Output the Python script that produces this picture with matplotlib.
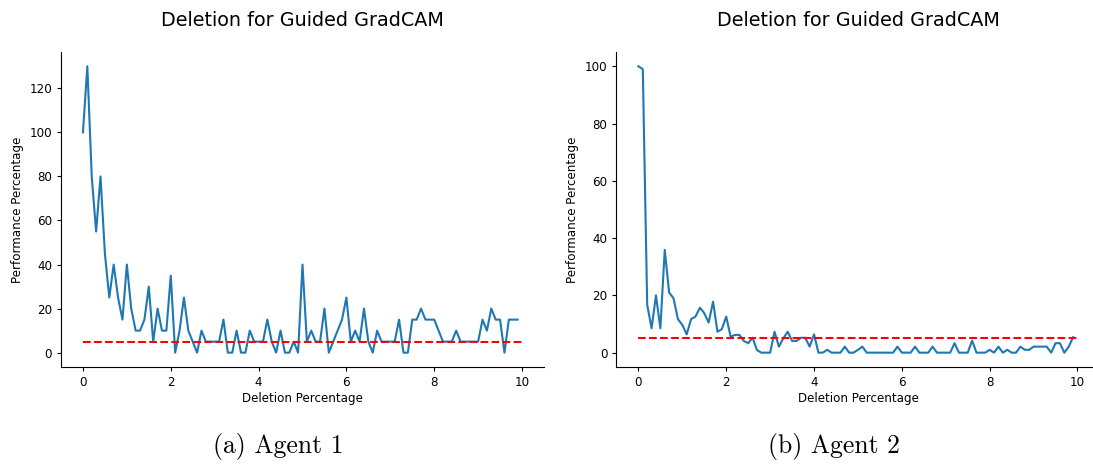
import matplotlib
matplotlib.use("Agg")
import matplotlib.pyplot as plt
import numpy as np

# deletion steps (percent), 0.0 .. 9.9
steps = np.round(np.arange(100) * 0.1, 1)

# agent 1 performance (%)
agent1 = [100, 130, 80, 55, 80, 45, 25, 40, 25, 15,
          40, 20, 10, 10, 15, 30, 5, 20, 10, 10,
          35, 0, 10, 25, 10, 5, 0, 10, 5, 5,
          5, 5, 15, 0, 0, 10, 0, 0, 10, 5,
          5, 5, 15, 5, 0, 10, 0, 0, 5, 0,
          40, 5, 10, 5, 5, 20, 0, 5, 10, 15,
          25, 5, 10, 5, 20, 5, 0, 10, 5, 5,
          5, 5, 15, 0, 0, 15, 15, 20, 15, 15,
          15, 10, 5, 5, 5, 10, 5, 5, 5, 5,
          5, 15, 10, 20, 15, 15, 0, 15, 15, 15]

# agent 2 performance (%)
agent2 = [100, 99, 16.7, 8.5, 20, 8.5, 35.9, 21, 19, 11.7,
          9.7, 6.4, 11.7, 12.6, 15.7, 13.8, 10.5, 17.8, 7.3, 8.2,
          12.6, 5.6, 6.2, 6.2, 4.1, 3.3, 5.2, 0.9, 0, 0,
          0, 7.3, 2.1, 5, 7.3, 4.1, 4.1, 5.2, 5.2, 2.1,
          6.4, 0, 0, 1, 0, 0, 0, 2.1, 0, 0,
          1, 2.1, 0, 0, 0, 0, 0, 0, 0, 2.1,
          0, 0, 0, 2.1, 0, 0, 0, 2.1, 0, 0,
          0, 0, 3.3, 0, 0, 0, 4.2, 0, 0, 0,
          1, 0, 2.1, 0, 1, 0, 0, 2.1, 1, 1,
          2.1, 2.1, 2.1, 2.1, 0, 3.3, 3.3, 0, 2.1, 5.4]

baseline = 5
captions = ["(a) Agent 1", "(b) Agent 2"]

fig = plt.figure(figsize=(10.93, 4.65), dpi=100)
ax1 = fig.add_axes([0.0558, 0.2108, 0.4419, 0.6774])
ax2 = fig.add_axes([0.5640, 0.2108, 0.4419, 0.6774])

for ax, vals, cap in zip([ax1, ax2], [agent1, agent2], captions):
    ax.plot(steps, vals, color="#1f77b4", linewidth=1.5)
    ax.plot([0, 10], [baseline, baseline], "r--", linewidth=1.5)
    ax.set_title("Deletion for Guided GradCAM", fontsize=13.8, pad=19)
    ax.set_xlabel("Deletion Percentage", fontsize=8.6, labelpad=2)
    ax.set_ylabel("Performance Percentage", fontsize=8.6, labelpad=4)
    ax.tick_params(labelsize=8.6, length=3)
    ax.set_xticks([0, 2, 4, 6, 8, 10])
    ax.spines["top"].set_visible(False)
    ax.spines["right"].set_visible(False)
    pos = ax.get_position()
    fig.text(pos.x0 + pos.width / 2 - 0.022, 0.025, cap, ha="center",
             fontsize=18.5, family="cmr10")

ax1.set_yticks([0, 20, 40, 60, 80, 100, 120])
ax2.set_yticks([0, 20, 40, 60, 80, 100])

fig.savefig("out.png", dpi=100)
